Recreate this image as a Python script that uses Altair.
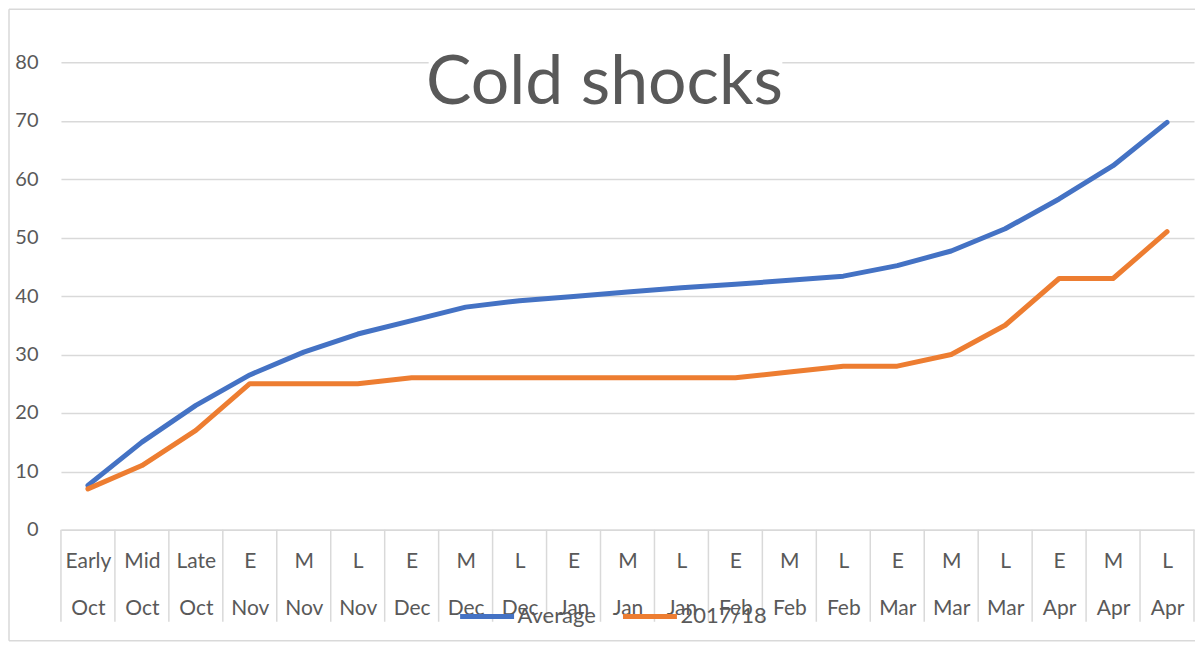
import altair as alt
import pandas as pd

categories = ["Early Oct", "Mid Oct", "Late Oct", "E Nov", "M Nov", "L Nov",
              "E Dec", "M Dec", "L Dec", "E Jan", "M Jan", "L Jan",
              "E Feb", "M Feb", "L Feb", "E Mar", "M Mar", "L Mar",
              "E Apr", "M Apr", "L Apr"]
average = [7.6, 15.0, 21.3, 26.5, 30.4, 33.5, 35.8, 38.1, 39.2, 39.9, 40.7,
           41.4, 42.0, 42.7, 43.4, 45.2, 47.7, 51.5, 56.6, 62.3, 69.7]
season_1718 = [7, 11, 17, 25, 25, 25, 26, 26, 26, 26, 26, 26, 26, 27, 28,
               28, 30, 35, 43, 43, 51]
series_names = ["Average", "2017/18"]
title_text = ["Cold shocks"]

rows = []
for name, vals in zip(series_names, [average, season_1718]):
    for c, v in zip(categories, vals):
        rows.append({"cat": c, "series": name, "value": v})
df = pd.DataFrame(rows)
cat_df = pd.DataFrame({"cat": categories})

W, H = 1134, 468
FONT = "Lato"
GREY = "#595959"
LINE = "#d9d9d9"

x_enc = alt.X("cat:N", sort=categories,
              scale=alt.Scale(type="point", padding=0.5),
              axis=alt.Axis(title=None, labelAngle=0, labelAlign="center",
                            ticks=False, grid=False,
                            domain=True, domainColor=LINE, domainWidth=1.5,
                            labelExpr="split(datum.value, ' ')",
                            labelLineHeight=47, labelBaseline="alphabetic",
                            labelPadding=38, labelFontSize=21, labelColor=GREY,
                            labelFont=FONT, labelOverlap=False))

lines = alt.Chart(df).mark_line(strokeWidth=5, strokeCap="round", strokeJoin="round").encode(
    x=x_enc,
    y=alt.Y("value:Q", scale=alt.Scale(domain=[0, 80], nice=False),
            axis=alt.Axis(title=None, values=list(range(0, 81, 10)), domain=False,
                          ticks=False, grid=True, gridColor=LINE, gridWidth=1.5,
                          labelPadding=23, labelFontSize=20, labelColor=GREY,
                          labelFont=FONT)),
    color=alt.Color("series:N", sort=series_names,
                    scale=alt.Scale(domain=series_names, range=["#4472C4", "#ED7D31"]),
                    legend=alt.Legend(title=None, orient="none", legendX=397, legendY=525,
                                      direction="horizontal", labelFontSize=22,
                                      labelColor=GREY, labelFont=FONT,
                                      symbolSize=2916, symbolStrokeWidth=5,
                                      symbolType="stroke", columnPadding=16,
                                      labelOffset=1)),
)

separators = alt.Chart(cat_df).mark_rule(xOffset=-27, color=LINE, strokeWidth=1.5).encode(
    x=alt.X("cat:N", sort=categories), y=alt.value(H), y2=alt.value(H + 92)
)
right_sep = alt.Chart(cat_df.head(1)).mark_rule(color=LINE, strokeWidth=1.5).encode(
    x=alt.value(W), y=alt.value(H), y2=alt.value(H + 92)
)

borders = alt.Chart(cat_df.head(1)).mark_rule(color=LINE, strokeWidth=1.5)
left_border = borders.encode(x=alt.value(-52), y=alt.value(-53), y2=alt.value(H + 111))
top_border = borders.encode(x=alt.value(-52), x2=alt.value(W + 1), y=alt.value(-53))
bottom_border = borders.encode(x=alt.value(-52), x2=alt.value(W + 1), y=alt.value(H + 111))

title_bg = alt.Chart(pd.DataFrame({"t": title_text})).mark_rect(color="white").encode(
    x=alt.value(368), x2=alt.value(722), y=alt.value(-20), y2=alt.value(48)
)
title = alt.Chart(pd.DataFrame({"t": title_text})).mark_text(
    font=FONT, fontSize=68, color=GREY, align="center", baseline="alphabetic"
).encode(text="t:N", x=alt.value(544), y=alt.value(42))

chart = alt.layer(
    left_border, top_border, bottom_border, separators, right_sep,
    title_bg, title, lines
).resolve_scale(x="shared").properties(
    width=W, height=H,
    autosize=alt.AutoSizeParams(type="none"),
    padding={"left": 53, "top": 54, "right": 1, "bottom": 112},
).configure_view(stroke=None)

chart.save("out.html", embed_options={"renderer": "svg", "actions": False})
